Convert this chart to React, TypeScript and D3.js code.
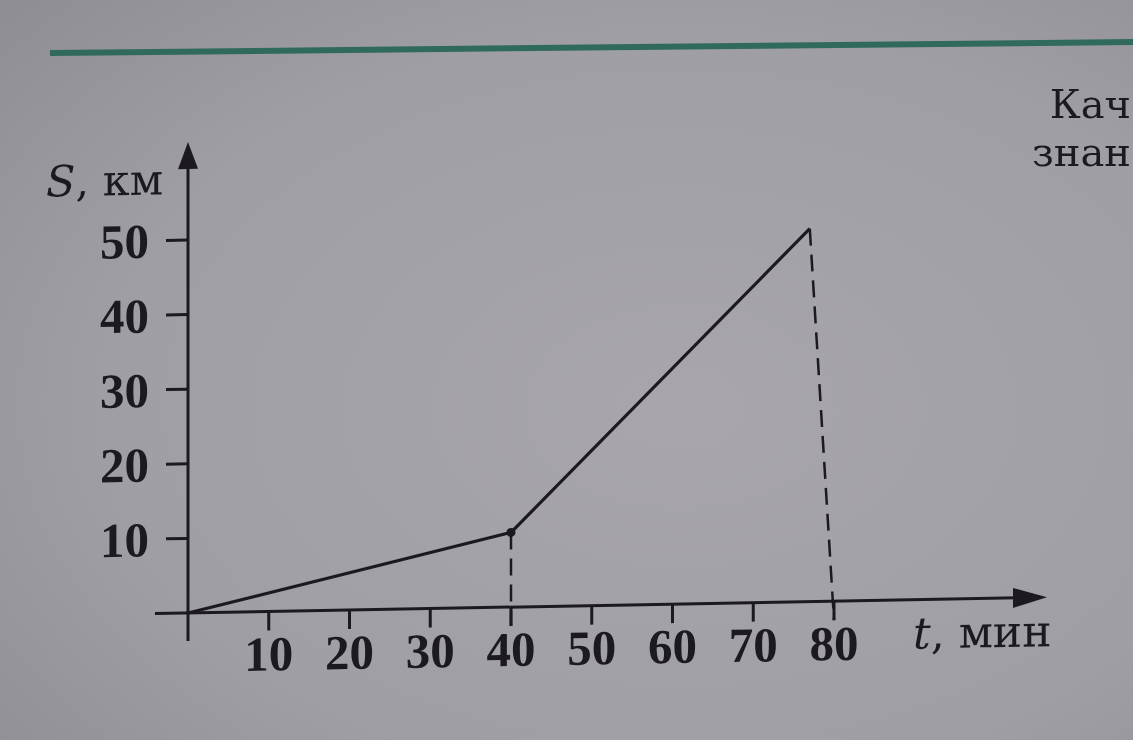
import React from 'react';
import * as d3 from 'd3';

// Data
const timeMin = [0, 40, 77];
const distKm = [0, 10, 50];
const dropFromIdx = [1, 2];
const dropToTime = [40, 80];
const xTicks = [10, 20, 30, 40, 50, 60, 70, 80];
const yTicks = [10, 20, 30, 40, 50];
const yTitleVar = 'S';
const yTitleUnit = ', км';
const xTitleVar = 't';
const xTitleUnit = ', мин';
const sideTextLines = ['Кач', 'знан'];

const W = 1133;
const H = 740;

export default function App() {
  const x = d3.scaleLinear().domain([0, 80]).range([188, 834]);
  const y = d3.scaleLinear().domain([0, 50]).range([613, 240]);
  const pts: [number, number][] = timeMin.map((t, i) => [x(t), y(distKm[i])]);
  const linePath = d3.line()(pts) || '';
  const ox = x(0);
  const oy = y(0);
  const ink = '#1c1a20';
  const serif = '"Liberation Serif", "Times New Roman", serif';
  const wideSerif = '"DejaVu Serif", serif';
  const xEnd = 1047;
  const yTop = 142;

  return (
    <svg
      width={W}
      height={H}
      style={{ position: 'fixed', left: 0, top: 0 }}
      viewBox={`0 0 ${W} ${H}`}
    >
      <defs>
        <radialGradient id="paper" cx="0.6" cy="0.55" r="0.85">
          <stop offset="0" stopColor="#a8a6ac" />
          <stop offset="0.6" stopColor="#a09ea5" />
          <stop offset="1" stopColor="#8c8b90" />
        </radialGradient>
      </defs>
      <rect width={W} height={H} fill="url(#paper)" />
      <line x1={50} y1={53} x2={W} y2={42} stroke="#2f6a5c" strokeWidth={6} />
      <g fontFamily={wideSerif} fill={ink} fontSize={40}>
        <text x={1131} y={118} textAnchor="end">{sideTextLines[0]}</text>
        <text x={1131} y={166} textAnchor="end">{sideTextLines[1]}</text>
      </g>
      <g transform={`translate(${ox},${oy}) skewY(-1.05) translate(${-ox},${-oy})`}>
        {/* y axis */}
        <line x1={ox} y1={oy + 28} x2={ox} y2={yTop + 20} stroke={ink} strokeWidth={3} />
        <polygon points={`${ox},${yTop} ${ox - 10},${yTop + 27} ${ox + 10},${yTop + 27}`} fill={ink} />
        {/* x axis */}
        <line x1={ox - 33} y1={oy} x2={xEnd - 25} y2={oy} stroke={ink} strokeWidth={3} />
        <polygon points={`${xEnd},${oy} ${xEnd - 34},${oy - 10} ${xEnd - 34},${oy + 10}`} fill={ink} />
        {/* y ticks */}
        {yTicks.map((v) => (
          <g key={'y' + v}>
            <line x1={ox - 22} y1={y(v)} x2={ox} y2={y(v)} stroke={ink} strokeWidth={3} />
            <text x={149} y={y(v)} dy="0.35em" textAnchor="end" fontFamily={serif} fontWeight="bold" fontSize={49} fill={ink}>
              {v}
            </text>
          </g>
        ))}
        {/* x ticks */}
        {xTicks.map((v) => (
          <g key={'x' + v}>
            <line x1={x(v)} y1={oy} x2={x(v)} y2={oy + 19} stroke={ink} strokeWidth={3} />
            <text x={x(v)} y={oy + 59} textAnchor="middle" fontFamily={serif} fontWeight="bold" fontSize={49} fill={ink}>
              {v}
            </text>
          </g>
        ))}
        {/* dashed drops */}
        {dropFromIdx.map((idx, i) => (
          <line
            key={'d' + i}
            x1={x(timeMin[idx])}
            y1={y(distKm[idx])}
            x2={x(dropToTime[i])}
            y2={oy + 19}
            stroke={ink}
            strokeWidth={2.5}
            strokeDasharray="17 9"
          />
        ))}
        {/* graph */}
        <path d={linePath} fill="none" stroke={ink} strokeWidth={3.2} strokeLinejoin="miter" />
        <circle cx={x(timeMin[1])} cy={y(distKm[1])} r={4.5} fill={ink} />
        {/* axis titles */}
        <text x={913} y={662} fontFamily={wideSerif} fontSize={44} fill={ink}>
          <tspan fontStyle="italic">{xTitleVar}</tspan>
          <tspan>{xTitleUnit}</tspan>
        </text>
        <text x={46} y={194} fontFamily={wideSerif} fontSize={43} fill={ink}>
          <tspan fontStyle="italic">{yTitleVar}</tspan>
          <tspan>{yTitleUnit}</tspan>
        </text>
      </g>
    </svg>
  );
}
